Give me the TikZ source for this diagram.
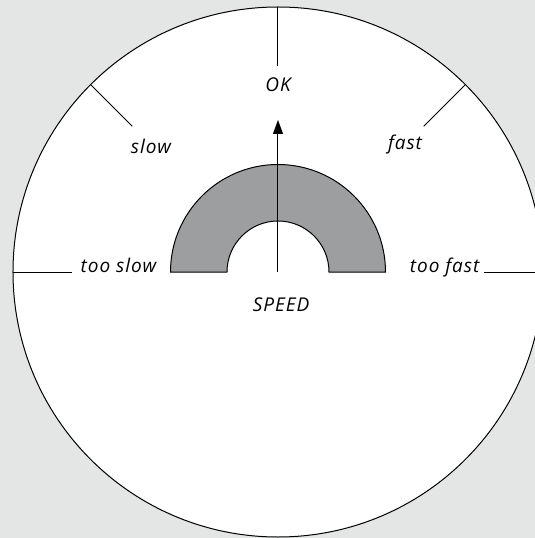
\documentclass[tikz,border=0pt]{standalone}
\usepackage{fontspec}
\setmainfont{Open Sans}[LetterSpace=5]
\usetikzlibrary{arrows.meta}
\definecolor{backgr}{RGB}{228,229,229}
\definecolor{band}{RGB}{157,158,160}
\tikzset{lbl/.style={font=\fontsize{19}{22}\selectfont\itshape,inner sep=1pt}}
\begin{document}
\begin{tikzpicture}[x=1pt,y=1pt,>={Triangle[length=14pt,width=10pt]},line width=1pt]
\fill[backgr] (-278,-266) rectangle (257,272);
\useasboundingbox (-278,-266) rectangle (257,272);
\clip (-278,-266) rectangle (257,272);
\draw[fill=white] (0,0) circle (265);
\foreach \a in {0,45,90,135,180} {\draw (\a:206)--(\a:265);}
\draw[fill=band] (-107.5,0) arc (180:0:107.5) -- (51,0) arc (0:180:51) -- cycle;
\coordinate (c) at (0,0);
\coordinate (tip) at (0,152);
\draw[->] (c)--(tip);
\node[lbl] (ok) at (0,187) {OK};
\node[lbl] (slow) at (-127,126) {slow};
\node[lbl] (fast) at (127,127) {fast};
\node[lbl,anchor=base] (tooslow) at (-159.5,0) {too slow};
\node[lbl,anchor=base] (toofast) at (166.6,0) {too fast};
\node[lbl] (speed) at (3,-33) {SPEED};
\end{tikzpicture}
\end{document}
